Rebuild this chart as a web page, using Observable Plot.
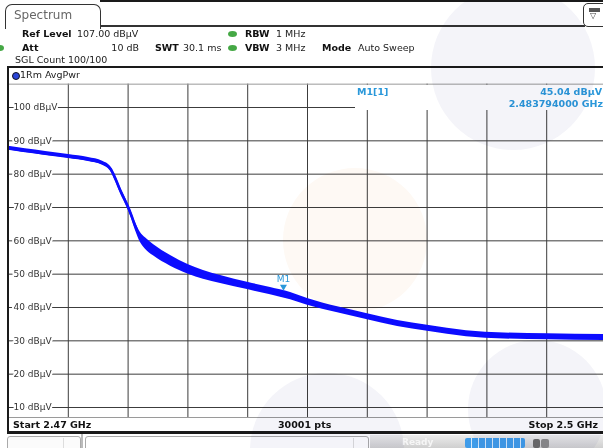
<!DOCTYPE html>
<html><head><meta charset="utf-8">
<script src="https://cdn.jsdelivr.net/npm/d3@7"></script>
<script src="https://cdn.jsdelivr.net/npm/@observablehq/plot@0.6"></script>
<style>
html,body{margin:0;padding:0;background:#fff;}
#root{position:relative;width:603px;height:448px;overflow:hidden;font-family:"DejaVu Sans",sans-serif;background:#fff;color:#222;}
#plot{position:absolute;left:0;top:0;}
.a{position:absolute;white-space:nowrap;line-height:12px;font-size:9.5px;}
.b{font-weight:bold;color:#111;}
.ln{position:absolute;background:#1a1a1a;}
.gd{position:absolute;width:9px;height:6px;border-radius:50%;background:#45a845;}
.c{position:absolute;border-radius:50%;mix-blend-mode:multiply;pointer-events:none;}
.mk{color:#2a98da;font-weight:bold;}
</style>
</head><body>
<div id="root">
  <div id="plot"></div>

  <!-- top chrome -->
  <div class="ln" style="left:100px;top:0;width:503px;height:1.5px;"></div>
  <div style="position:absolute;left:5px;top:4px;width:94px;height:24px;border:1.5px solid #333;border-bottom:none;border-radius:7px 7px 0 0;background:#fff;"></div>
  <div class="a" style="left:14px;top:8px;font-size:12px;line-height:14px;color:#666;">Spectrum</div>
  <div class="ln" style="left:100px;top:25px;width:485px;height:1.5px;background:#333;"></div>
  <div style="position:absolute;left:583px;top:3px;width:24px;height:22px;border:1.5px solid #333;border-radius:5px;background:#fff;"></div>
  <div style="position:absolute;left:589px;top:8px;width:11px;height:4px;background:#555;"></div>
  <div class="a" style="left:590px;top:11px;font-size:8px;line-height:10px;color:#444;">▽</div>

  <!-- header -->
  <div class="a b" style="left:22px;top:28px;">Ref Level</div>
  <div class="a" style="left:77px;top:28px;">107.00 dBµV</div>
  <div class="gd" style="left:228px;top:31px;"></div>
  <div class="a b" style="left:245px;top:28px;">RBW</div>
  <div class="a" style="left:276px;top:28px;">1 MHz</div>

  <div class="gd" style="left:-5px;top:44.5px;"></div>
  <div class="a b" style="left:22px;top:41.5px;">Att</div>
  <div class="a" style="right:464px;top:41.5px;">10 dB</div>
  <div class="a b" style="left:155px;top:41.5px;">SWT</div>
  <div class="a" style="left:183px;top:41.5px;">30.1 ms</div>
  <div class="gd" style="left:228px;top:44.5px;"></div>
  <div class="a b" style="left:245px;top:41.5px;">VBW</div>
  <div class="a" style="left:276px;top:41.5px;">3 MHz</div>
  <div class="a b" style="left:322px;top:41.5px;">Mode</div>
  <div class="a" style="left:358px;top:41.5px;">Auto Sweep</div>

  <div class="a" style="left:15px;top:54px;">SGL Count 100/100</div>

  <div class="ln" style="left:7px;top:66px;width:596px;height:2px;"></div>
  <div class="ln" style="left:6.5px;top:66px;width:2.5px;height:368px;"></div>
  <div style="position:absolute;left:12px;top:72px;width:6px;height:6px;border-radius:50%;background:#2a45d8;border:0.5px solid #112;"></div>
  <div class="a" style="left:20px;top:69px;">1Rm AvgPwr</div>

  <!-- marker info box -->
  <div style="position:absolute;left:355px;top:85px;width:250px;height:24.5px;background:#fff;"></div>
  <div class="a mk" id="mkName" style="left:357px;top:86px;"></div>
  <div class="a mk" id="mkLevel" style="right:1px;top:86px;"></div>
  <div class="a mk" id="mkFreq" style="right:0px;top:97.5px;"></div>

  <!-- footer -->
  <div class="a b" id="fStart" style="left:13px;top:418.5px;"></div>
  <div class="a b" id="fPts" style="left:278px;top:418.5px;"></div>
  <div class="a b" id="fStop" style="right:5px;top:418.5px;"></div>
  <div class="ln" style="left:7px;top:431px;width:596px;height:2.5px;"></div>

  <!-- bottom bar -->
  <div style="position:absolute;left:7px;top:436px;width:72px;height:14px;border:1px solid #aaa;border-radius:3px 3px 0 0;background:#fbfbfb;"></div>
  <div style="position:absolute;left:63px;top:438px;width:1px;height:11px;background:#ddd;"></div>
  <div style="position:absolute;left:81px;top:434px;width:2px;height:14px;background:#bbb;"></div>
  <div style="position:absolute;left:85px;top:436px;width:282px;height:14px;border:1px solid #aaa;border-radius:3px 3px 0 0;background:#fff;"></div>
  <div style="position:absolute;left:353px;top:438px;width:1px;height:11px;background:#ddd;"></div>
  <div style="position:absolute;left:370px;top:435px;width:233px;height:13px;background:linear-gradient(#ececec,#cfcfcf);"></div>
  <div class="a b" style="left:402px;top:436px;color:#f6f6f6;font-size:9px;">Ready</div>
  <div style="position:absolute;left:465px;top:438px;width:60px;height:10px;border-radius:2px;background:repeating-linear-gradient(90deg,#3f9ce9 0 6px,#d4e8fa 6px 7px);"></div>
  <div style="position:absolute;left:533px;top:439px;width:7px;height:9px;border-radius:2px;background:#6a6a6a;"></div>
  <div style="position:absolute;left:541px;top:439px;width:8px;height:9px;border-radius:2px;background:#8a8a8a;"></div>

  <!-- watermark circles -->
  <div class="c" style="left:431px;top:-14px;width:164px;height:164px;background:#f4f4f9;"></div>
  <div class="c" style="left:283px;top:168px;width:144px;height:144px;background:#fef9f4;"></div>
  <div class="c" style="left:250px;top:373px;width:154px;height:154px;background:#f4f4f9;"></div>
  <div class="c" style="left:468px;top:340px;width:138px;height:138px;background:#f4f4f9;"></div>
</div>
<script>
// ---- data ----
const freqGHz = [2.47000, 2.47085, 2.47186, 2.47301, 2.47401, 2.47472, 2.47512, 2.47537,
  2.47562, 2.47587, 2.47602, 2.47617, 2.47637, 2.47662, 2.47687, 2.47727, 2.47813,
  2.47903, 2.47978, 2.48064, 2.48204, 2.48314, 2.48415, 2.48500, 2.48651, 2.48801,
  2.48952, 2.49102, 2.49202, 2.49393, 2.49704, 2.50000];
const levelDb = [87.8, 87.0, 86.2, 85.3, 84.4, 83.3, 81.6, 78.6,
  75.0, 71.9, 69.9, 67.6, 64.3, 61.0, 59.2, 57.2, 54.0,
  51.4, 49.8, 48.4, 46.4, 44.9, 43.4, 41.7, 39.3, 37.2,
  35.2, 33.8, 32.9, 31.7, 31.2, 31.0];
const noiseDb = [0.6, 0.6, 0.6, 0.6, 0.6, 0.6, 0.7, 0.9,
  0.9, 0.9, 0.9, 1.0, 1.2, 1.5, 1.7, 1.7, 1.6,
  1.4, 1.3, 1.2, 1.1, 1.1, 1.1, 1.0, 0.9, 0.9,
  0.9, 0.9, 0.9, 0.9, 0.9, 0.9];
const yTicks = [10, 20, 30, 40, 50, 60, 70, 80, 90, 100];
const xTicks = [2.473, 2.476, 2.479, 2.482, 2.485, 2.488, 2.491, 2.494, 2.497];
const refLevel = 107;
const bottomLevel = 7;
const startGHz = 2.47;
const stopGHz = 2.5;
const sweepPoints = 30001;
const markerName = "M1";
const markerFreq = 2.483794;
const markerLevel = 45.04;

const trace = freqGHz.map((f, i) => ({f, v: levelDb[i], lo: levelDb[i] - noiseDb[i], hi: levelDb[i] + noiseDb[i]}));
const blue = "#0c0cff";
const mkColor = "#2a98da";

const chart = Plot.plot({
  width: 603,
  height: 448,
  margin: 0,
  style: {fontFamily: "DejaVu Sans", fontSize: "9px", background: "white"},
  x: {domain: [startGHz, stopGHz], range: [8, 606], axis: null},
  y: {domain: [bottomLevel, refLevel], range: [417, 83.67], axis: null},
  marks: [
    Plot.ruleY(yTicks, {x1: startGHz, x2: stopGHz, stroke: "#3c3c3c", strokeWidth: 1}),
    Plot.ruleX(xTicks, {y1: bottomLevel, y2: refLevel, stroke: "#3c3c3c", strokeWidth: 1}),
    Plot.ruleY([refLevel, bottomLevel], {x1: startGHz, x2: stopGHz, stroke: "#9a9a9a", strokeWidth: 1}),
    Plot.text(yTicks, {x: startGHz, y: d => d, text: d => `${d} dBµV`, textAnchor: "start", dx: 5,
      fill: "#333", stroke: "white", strokeWidth: 4, paintOrder: "stroke", fontSize: 9}),
    Plot.areaY(trace, {x: "f", y1: "lo", y2: "hi", fill: blue, curve: "monotone-x"}),
    Plot.line(trace, {x: "f", y: "v", stroke: blue, strokeWidth: 2.5, curve: "monotone-x"}),
    Plot.dot([{f: markerFreq, v: markerLevel}], {x: "f", y: "v", symbol: "triangle", r: 2.6, rotate: 180,
      fill: mkColor, stroke: "none", dy: -4}),
    Plot.text([{f: markerFreq, v: markerLevel}], {x: "f", y: "v", text: () => markerName, dy: -12,
      fill: mkColor, fontSize: 9})
  ]
});
document.getElementById("plot").appendChild(chart);

document.getElementById("mkName").textContent = `${markerName}[1]`;
document.getElementById("mkLevel").textContent = `${markerLevel.toFixed(2)} dBµV`;
document.getElementById("mkFreq").textContent = `${markerFreq.toFixed(9)} GHz`;
document.getElementById("fStart").textContent = `Start ${startGHz} GHz`;
document.getElementById("fPts").textContent = `${sweepPoints} pts`;
document.getElementById("fStop").textContent = `Stop ${stopGHz} GHz`;
</script>
</body></html>
